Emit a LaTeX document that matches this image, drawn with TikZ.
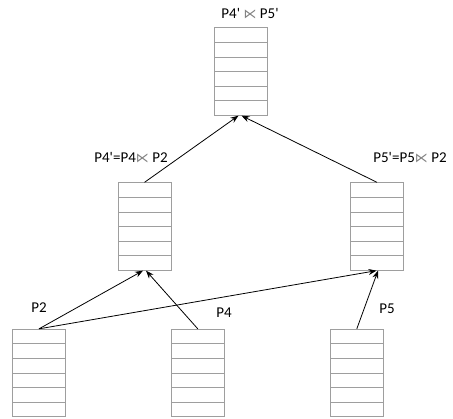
\documentclass[tikz,border=0pt]{standalone}
\usepackage{fontspec}
\setmainfont{Carlito}
\newfontfamily\symfont{DejaVu Sans}
\usetikzlibrary{arrows.meta,calc}
\definecolor{tb}{gray}{0.62}
\newcommand{\sj}{{\symfont\color{gray}\fontsize{13}{15}\selectfont ⋉}}
\newcommand{\q}{\textquotesingle}
\tikzset{
  tbl/.style={draw=tb, line width=0.8pt, minimum width=53pt, minimum height=87.5pt, inner sep=0pt,
    path picture={
      \foreach \k in {1,...,5}{
        \draw[tb, line width=0.8pt] ($(path picture bounding box.north west)!\k/6!(path picture bounding box.south west)$) -- ++(60pt,0);
      }
    }},
  lbl/.style={font=\fontsize{15}{17}\selectfont, inner sep=0pt},
  arr/.style={-{Stealth[length=8pt,width=6pt]}, line width=0.8pt, black}
}
\begin{document}
\begin{tikzpicture}[x=1pt,y=-1pt]
\useasboundingbox (0,0) rectangle (453,419);
\node[tbl] (T) at (241,71.5) {};
\node[tbl] (ML) at (144.5,226.5) {};
\node[tbl] (MR) at (377,226.5) {};
\node[tbl] (B2) at (39,373) {};
\node[tbl] (B4) at (197.8,373) {};
\node[tbl] (B5) at (356.8,373) {};
\node[lbl] (LT) at (250,14) {P4\q\ \sj\ P5\q};
\node[lbl] (LML) at (131,158) {P4\q=P4\sj\ P2};
\node[lbl] (LMR) at (410,158) {P5\q=P5\sj\ P2};
\node[lbl] (L2) at (39,308) {P2};
\node[lbl] (L4) at (224,313) {P4};
\node[lbl] (L5) at (387,309) {P5};
\draw[arr] (B2.north) -- ([xshift=-1.5pt]ML.south);
\draw[arr] (B4.north) -- ([xshift=1.5pt]ML.south);
\draw[arr] (B2.north) -- ([xshift=-0.5pt]MR.south);
\draw[arr] (B5.north) -- ([xshift=1pt]MR.south);
\draw[arr] (ML.north) -- ([xshift=-2.5pt]T.south);
\draw[arr] (MR.north) -- ([xshift=0.5pt]T.south);
\end{tikzpicture}
\end{document}
